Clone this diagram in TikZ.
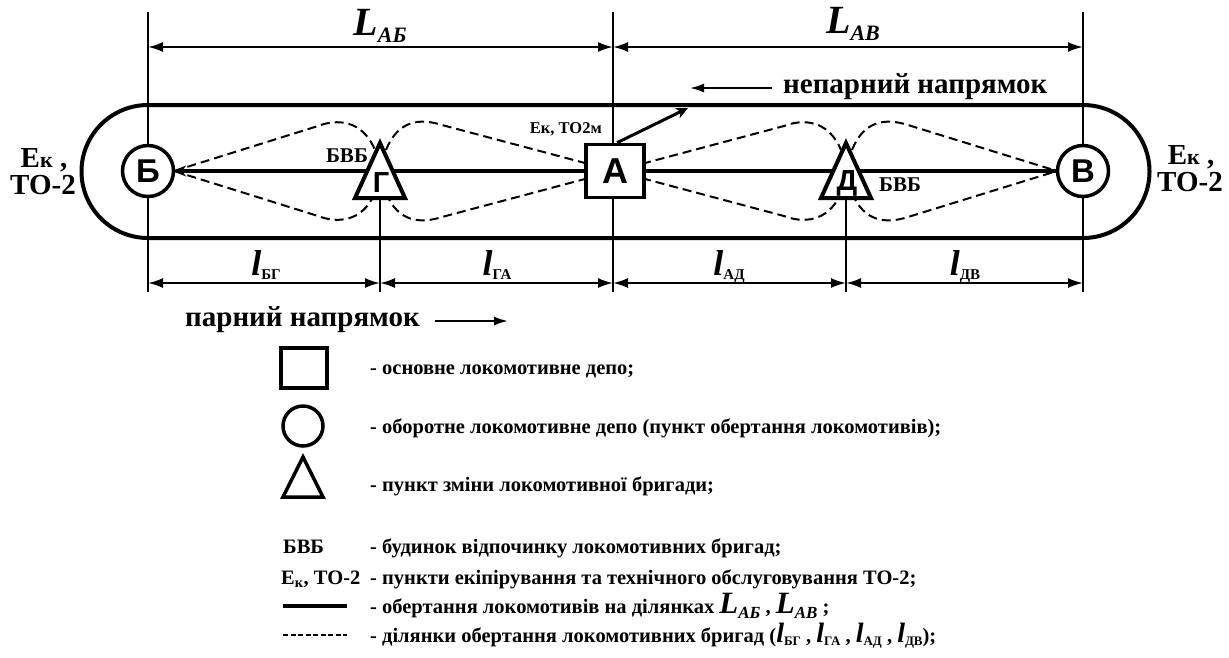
\documentclass[tikz,border=0pt]{standalone}
\usepackage{fontspec}
\setmainfont{Liberation Serif}
\newfontfamily\sansb{Liberation Sans}
\usetikzlibrary{arrows.meta}
\newcommand{\myfs}[1]{\fontsize{#1}{#1}\selectfont}
\newcommand{\dimLL}[1]{{\myfs{40}\bfseries\itshape L}{\myfs{22}\bfseries\itshape\raisebox{-7pt}{#1}}}
\newcommand{\legLL}[1]{{\myfs{31}\bfseries\itshape L}{\myfs{17}\bfseries\itshape\raisebox{-5pt}{#1}}}
\newcommand{\dimll}[1]{{\myfs{36}\bfseries\itshape l}{\myfs{15}\bfseries\raisebox{-4pt}{#1}}}
\newcommand{\legll}[1]{{\myfs{28}\bfseries\itshape l}{\myfs{13}\bfseries\raisebox{-3pt}{#1}}}
\begin{document}
\begin{tikzpicture}[x=1pt,y=-1pt,
  vl/.style={line width=2pt},
  dim/.style={line width=2pt,{Latex[length=15pt,width=10pt]}-{Latex[length=15pt,width=10pt]}},
  dsh/.style={line width=2pt,dash pattern=on 9pt off 5pt},
  stn/.style={draw,circle,line width=3.5pt,fill=white,minimum size=51pt,inner sep=0pt,font=\sansb\bfseries\myfs{33}},
  sqn/.style={draw,rectangle,line width=3.5pt,fill=white,minimum width=58pt,minimum height=53pt,inner sep=0pt,font=\sansb\bfseries\myfs{36}},
  tri/.style={draw,line width=4pt,fill=white,line join=miter},
  tlab/.style={inner sep=0pt,font=\sansb\bfseries\myfs{29}},
  lab/.style={inner sep=0pt,font=\bfseries\myfs{29}},
  eklab/.style={inner sep=0pt,anchor=base,font=\bfseries\myfs{29}},
  leg/.style={anchor=base west,inner sep=0pt,font=\bfseries\myfs{20.5}},
  main/.style={line width=4.5pt}]
\useasboundingbox (0,0) rectangle (1229,657);

% vertical reference lines
\coordinate (tB) at (148,12);  \coordinate (bB) at (148,292);
\coordinate (tA) at (613,12);  \coordinate (bA) at (613,292);
\coordinate (tV) at (1083,12); \coordinate (bV) at (1083,292);
\coordinate (gB) at (380,198); \coordinate (bG) at (380,292);
\coordinate (dB) at (846,198); \coordinate (bD) at (846,292);
\draw[vl] (tB) -- (bB);
\draw[vl] (tA) -- (bA);
\draw[vl] (tV) -- (bV);
\draw[vl] (gB) -- (bG);
\draw[vl] (dB) -- (bD);

% dimension lines
\coordinate (d1) at (148,47); \coordinate (d2) at (613,47); \coordinate (d3) at (1083,47);
\draw[dim] (d1) -- (d2);
\draw[dim] (d2) -- (d3);
\node[inner sep=0pt,anchor=base] (LAB) at (380,35) {\dimLL{АБ}};
\node[inner sep=0pt,anchor=base] (LAV) at (853,33) {\dimLL{АВ}};

\coordinate (e1) at (148,283); \coordinate (e2) at (380,283); \coordinate (e3) at (613,283);
\coordinate (e4) at (846,283); \coordinate (e5) at (1083,283);
\draw[dim] (e1) -- (e2);
\draw[dim] (e2) -- (e3);
\draw[dim] (e3) -- (e4);
\draw[dim] (e4) -- (e5);
\node[inner sep=0pt,anchor=base] (lBG) at (266,275) {\dimll{БГ}};
\node[inner sep=0pt,anchor=base] (lGA) at (497,275) {\dimll{ГА}};
\node[inner sep=0pt,anchor=base] (lAD) at (729,275) {\dimll{АД}};
\node[inner sep=0pt,anchor=base] (lDV) at (965,275) {\dimll{ДВ}};

% stadium
\draw[line width=4pt,rounded corners=66.5pt] (81.5,105) rectangle (1149.5,238);

% named points of the line
\coordinate (Bc) at (148,171);
\coordinate (Ac) at (615,171);
\coordinate (Vc) at (1083,171);
\coordinate (Be) at (174,171);
\coordinate (Vw) at (1057,171);

% dashed loops
\draw[dsh] (Be) -- (318,126) .. controls (336,119) and (362,119) .. (375,150);
\draw[dsh] (Be) -- (318,216) .. controls (336,223) and (362,223) .. (375,193);
\draw[dsh] (386,150) .. controls (398,120) and (420,118) .. (442,125) -- (Ac);
\draw[dsh] (386,193) .. controls (398,222) and (420,224) .. (442,217) -- (Ac);
\draw[dsh] (Ac) -- (784,126) .. controls (802,119) and (828,119) .. (841,150);
\draw[dsh] (Ac) -- (784,216) .. controls (802,223) and (828,223) .. (841,193);
\draw[dsh] (852,150) .. controls (864,120) and (886,118) .. (908,125) -- (Vw);
\draw[dsh] (852,193) .. controls (864,222) and (886,224) .. (908,217) -- (Vw);

% main line
\draw[main,-{Stealth[length=12pt,width=11pt]}] (Vw) -- (Be);

% stations
\node[stn] (B) at (148,171) {Б};
\node[stn] (V) at (1083,171) {В};
\node[sqn] (A) at (615,171) {А};
\draw[tri] (380,143) -- (405,198) -- (355,198) -- cycle;
\node[tlab] (G) at (381,183) {Г};
\draw[tri] (846,143) -- (871,198) -- (821,198) -- cycle;
\node[tlab] (D) at (847,183) {Д};

\node[inner sep=0pt,font=\bfseries\myfs{21}] (bvb1) at (347,156) {БВБ};
\node[inner sep=0pt,font=\bfseries\myfs{21}] (bvb2) at (900,185) {БВБ};

% arrow from A
\coordinate (nA) at (688,108);
\draw[line width=3pt,-{Stealth[length=12pt,width=11pt]}] ([xshift=2pt]A.north) -- (nA);
\node[inner sep=0pt,anchor=base east,font=\bfseries\myfs{16.5}] (ek) at (602,133) {Ек, ТО2м};

% E_k labels
\node[eklab] (ekL1) at (44,167) {Е{\myfs{22}к} ,};
\node[eklab] (ekL2) at (43,194) {ТО-2};
\node[eklab] (ekR1) at (1191,164) {Е{\myfs{22}к} ,};
\node[eklab] (ekR2) at (1190,191) {ТО-2};

% directions
\node[lab,anchor=west] (np) at (783,87) {непарний напрямок};
\coordinate (np1) at (772,88); \coordinate (np2) at (690,88);
\draw[line width=2pt,-{Latex[length=14pt,width=9pt]}] (np1) -- (np2);
\node[lab,anchor=west] (pp) at (185,320) {парний напрямок};
\coordinate (pp1) at (435,321); \coordinate (pp2) at (508,321);
\draw[line width=2pt,-{Latex[length=14pt,width=9pt]}] (pp1) -- (pp2);

% legend
\node[draw,rectangle,line width=3.5pt,minimum width=46pt,minimum height=40pt] (lsq) at (304,368) {};
\node[leg] (t1) at (370,374) {- основне локомотивне депо;};
\node[draw,circle,line width=3.5pt,minimum size=40pt,inner sep=0pt] (lci) at (303,426) {};
\node[leg] (t2) at (370,433) {- оборотне локомотивне депо (пункт обертання локомотивів);};
\draw[line width=3.5pt,line join=miter] (303,457) -- (323,497) -- (283,497) -- cycle;
\coordinate (ltri) at (303,480);
\node[leg] (t3) at (370,491) {- пункт зміни локомотивної бригади;};
\node[leg] (s4) at (283,553) {БВБ};
\node[leg] (t4) at (370,553) {- будинок відпочинку локомотивних бригад;};
\node[leg] (s5) at (281,584) {Е\textsubscript{к}, ТО-2};
\node[leg] (t5) at (370,584) {- пункти екіпірування та технічного обслуговування ТО-2;};
\coordinate (m1) at (283,606); \coordinate (m2) at (347,606);
\draw[line width=4pt] (m1) -- (m2);
\node[leg] (t6) at (370,613) {- обертання локомотивів на ділянках \legLL{АБ} , \legLL{АВ} ;};
\coordinate (n1) at (283,635); \coordinate (n2) at (347,635);
\draw[line width=2pt,dash pattern=on 5pt off 2.5pt] (n1) -- (n2);
\node[leg] (t7) at (370,642) {- ділянки обертання локомотивних бригад (\legll{БГ} , \legll{ГА} , \legll{АД} , \legll{ДВ});};
\end{tikzpicture}
\end{document}
